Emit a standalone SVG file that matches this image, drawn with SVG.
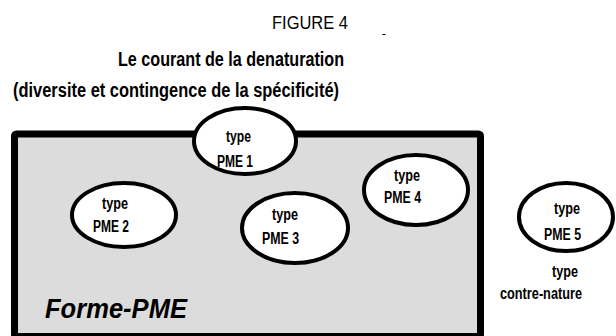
<svg xmlns="http://www.w3.org/2000/svg" width="616" height="336" viewBox="0 0 616 336">
<style>
text{font-family:"Liberation Sans",Arial,sans-serif;fill:#000}
.b{font-weight:bold;font-size:16px}
.t{font-weight:bold;font-size:19.5px}
.e{fill:#fff;stroke:#000;stroke-width:4}
</style>
<rect width="616" height="336" fill="#fff"/>
<text x="272" y="29" font-size="19" textLength="76" lengthAdjust="spacingAndGlyphs">FIGURE 4</text>
<text x="384" y="38" font-size="13" text-anchor="middle">-</text>
<text class="t" x="118" y="66" textLength="226" lengthAdjust="spacingAndGlyphs">Le courant de la denaturation</text>
<text class="t" x="13" y="97" textLength="326" lengthAdjust="spacingAndGlyphs">(diversite et contingence de la spécificité)</text>
<g id="forme-pme">
<rect x="14.5" y="134" width="466" height="202.5" fill="#dcdcdc" stroke="#000" stroke-width="7" rx="2"/>
<text x="45" y="318" font-size="27" font-weight="bold" font-style="italic" textLength="142" lengthAdjust="spacingAndGlyphs">Forme-PME</text>
</g>
<g id="pme1"><ellipse class="e" cx="245" cy="141" rx="51" ry="33"/>
<text class="b" x="226" y="142" textLength="25" lengthAdjust="spacingAndGlyphs">type</text>
<text class="b" x="217" y="167" textLength="36" lengthAdjust="spacingAndGlyphs">PME 1</text></g>
<g id="pme2"><ellipse class="e" cx="124" cy="215" rx="52" ry="32"/>
<text class="b" x="102" y="209" textLength="26" lengthAdjust="spacingAndGlyphs">type</text>
<text class="b" x="93" y="232" textLength="36" lengthAdjust="spacingAndGlyphs">PME 2</text></g>
<g id="pme3"><ellipse class="e" cx="295" cy="228" rx="53" ry="35"/>
<text class="b" x="272" y="220" textLength="26" lengthAdjust="spacingAndGlyphs">type</text>
<text class="b" x="262" y="244" textLength="37" lengthAdjust="spacingAndGlyphs">PME 3</text></g>
<g id="pme4"><ellipse class="e" cx="416" cy="190" rx="52" ry="35"/>
<text class="b" x="394" y="181" textLength="26" lengthAdjust="spacingAndGlyphs">type</text>
<text class="b" x="384" y="203" textLength="37" lengthAdjust="spacingAndGlyphs">PME 4</text></g>
<g id="pme5"><ellipse class="e" cx="566" cy="217" rx="47" ry="34"/>
<text class="b" x="554" y="214" textLength="26" lengthAdjust="spacingAndGlyphs">type</text>
<text class="b" x="544" y="240" textLength="37" lengthAdjust="spacingAndGlyphs">PME 5</text></g>
<g id="contre-nature">
<text class="b" x="552" y="277" textLength="26" lengthAdjust="spacingAndGlyphs">type</text>
<text class="b" x="500" y="299" textLength="82" lengthAdjust="spacingAndGlyphs">contre-nature</text>
</g>
</svg>
